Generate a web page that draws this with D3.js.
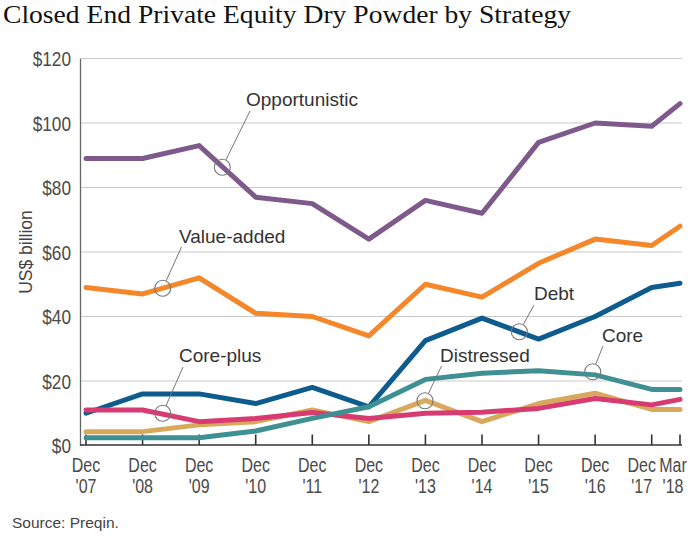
<!DOCTYPE html>
<html><head><meta charset="utf-8">
<script src="https://cdn.jsdelivr.net/npm/d3@7"></script>
<style>
body{margin:0;background:#fff;}
svg{display:block;}
</style></head>
<body>
<svg id="c" width="696" height="544"></svg>
<script>
const categories = ["Dec '07","Dec '08","Dec '09","Dec '10","Dec '11","Dec '12","Dec '13","Dec '14","Dec '15","Dec '16","Dec '17","Mar '18"];
const opportunistic = [89, 89, 93, 77, 75, 64, 76, 72, 94, 100, 99, 106];
const valueAdded   = [49, 47, 52, 41, 40, 34, 50, 46, 56.5, 64, 62, 68];
const debt         = [10, 16, 16, 13, 18, 12, 32.5, 39.5, 33, 40, 49, 50.3];
const distressed   = [4.3, 4.3, 6.4, 7.4, 11, 7.4, 14, 7.4, 13, 16.2, 11.2, 11.2];
const corePlus     = [11, 11, 7.4, 8.4, 10.2, 8.4, 10, 10.3, 11.5, 14.6, 12.6, 14.3];
const core         = [2.4, 2.4, 2.4, 4.5, 8.4, 12, 20.5, 22.4, 23.2, 21.9, 17.4, 17.4];
const yTicks = [0, 20, 40, 60, 80, 100, 120];

const series = [
  {name:"Opportunistic", values:opportunistic, color:"#7e5a8c"},
  {name:"Value-added", values:valueAdded, color:"#f5862a"},
  {name:"Debt", values:debt, color:"#0e5b8e"},
  {name:"Distressed", values:distressed, color:"#d8a95c"},
  {name:"Core-plus", values:corePlus, color:"#d83a72"},
  {name:"Core", values:core, color:"#3f9093"}
];

const svg = d3.select("#c");
const sans = "'Liberation Sans',Arial,Helvetica,sans-serif";
const condense = 0.82;

// position index: year-end points one step apart, March point a half step after Dec '17
const pos = categories.map((c,i)=> i < categories.length-1 ? i : (i-1)+0.5);
const x = d3.scaleLinear().domain([0, 10]).range([86, 651.7]);
const y = d3.scaleLinear().domain([0, 120]).range([445.5, 58.5]);
const plotLeft = 80, plotRight = 682;

// title
svg.append("text").attr("x",3).attr("y",22.5)
  .attr("font-family","'Liberation Serif','Times New Roman',serif")
  .attr("font-size",24.5).attr("fill","#111")
  .attr("textLength",568).attr("lengthAdjust","spacingAndGlyphs")
  .text("Closed End Private Equity Dry Powder by Strategy");

// gridlines
svg.append("g").selectAll("line").data(yTicks.filter(d=>d>0)).join("line")
  .attr("x1",plotLeft).attr("x2",plotRight)
  .attr("y1",d=>y(d)).attr("y2",d=>y(d))
  .attr("stroke","#c9c9c9").attr("stroke-width",1.2);

// y axis line
const yAxis = d3.axisLeft(y).tickValues(yTicks).tickSize(0).tickFormat("");
const gy = svg.append("g").attr("transform",`translate(${plotLeft},0)`).call(yAxis);
gy.select(".domain").attr("stroke","#666").attr("stroke-width",1.3);

// y tick labels (condensed)
svg.append("g").selectAll("text").data(yTicks).join("text")
  .attr("transform",d=>`translate(71,${y(d)}) scale(${condense},1)`)
  .attr("text-anchor","end").attr("dy","0.36em")
  .attr("font-family",sans).attr("font-size",21).attr("fill","#4a4a4a")
  .text(d=>"$"+d);

// y axis title
svg.append("text").attr("transform","translate(32,252) rotate(-90)")
  .attr("text-anchor","middle").attr("font-family",sans).attr("font-size",17.5).attr("fill","#444")
  .text("US$ billion");

// x axis
svg.append("line").attr("x1",plotLeft).attr("x2",plotRight).attr("y1",445).attr("y2",445)
  .attr("stroke","#333").attr("stroke-width",1.6);
svg.append("g").selectAll("line").data(pos).join("line")
  .attr("x1",d=>x(d)).attr("x2",d=>x(d)).attr("y1",445).attr("y2",434.5)
  .attr("stroke","#333").attr("stroke-width",1.6);

const labelShift = categories.map((c,i)=> i===categories.length-2 ? -10 : (i===categories.length-1 ? -7 : 0));
const xg = svg.append("g").selectAll("g").data(categories).join("g")
  .attr("transform",(d,i)=>`translate(${x(pos[i])+labelShift[i]},0) scale(${condense},1)`);
xg.append("text").attr("text-anchor","middle").attr("y",472.5)
  .attr("font-family",sans).attr("font-size",19.5).attr("fill","#4a4a4a")
  .text(d=>d.split(" ")[0]);
xg.append("text").attr("text-anchor","middle").attr("y",493.5)
  .attr("font-family",sans).attr("font-size",19.5).attr("fill","#4a4a4a")
  .text(d=>d.split(" ")[1]);

// lines
const line = d3.line().x((d,i)=>x(pos[i])).y(d=>y(d));
svg.append("g").selectAll("path").data(series).join("path")
  .attr("d",d=>line(d.values)).attr("fill","none")
  .attr("stroke",d=>d.color).attr("stroke-width",5)
  .attr("stroke-linejoin","round").attr("stroke-linecap","round");

// annotations
const ann = [
  {t:"Opportunistic", tx:246, ty:106, cx:222.3, cy:167.3, lx:250, ly:111},
  {t:"Value-added", tx:179, ty:243, cx:162.7, cy:288.3, lx:181.5, ly:247},
  {t:"Core-plus", tx:179, ty:362, cx:162.7, cy:413.3, lx:183, ly:367},
  {t:"Debt", tx:534, ty:300, cx:519.3, cy:331.7, lx:534, ly:305},
  {t:"Distressed", tx:440, ty:362, cx:425, cy:400.7, lx:441.5, ly:366},
  {t:"Core", tx:602, ty:342, cx:592.7, cy:371.7, lx:603, ly:346}
];
const r = 8;
const ga = svg.append("g");
ann.forEach(a=>{
  const dx = a.lx-a.cx, dy = a.ly-a.cy, L = Math.hypot(dx,dy);
  ga.append("line").attr("x1",a.lx).attr("y1",a.ly)
    .attr("x2",a.cx+dx/L*r).attr("y2",a.cy+dy/L*r)
    .attr("stroke","#777").attr("stroke-width",1);
  ga.append("circle").attr("cx",a.cx).attr("cy",a.cy).attr("r",r)
    .attr("fill","none").attr("stroke","#777").attr("stroke-width",1.1);
  ga.append("text").attr("x",a.tx).attr("y",a.ty).attr("font-family",sans)
    .attr("font-size",19).attr("fill","#333").text(a.t);
});

// source
svg.append("text").attr("x",12).attr("y",528).attr("font-family",sans)
  .attr("font-size",15.5).attr("fill","#444").text("Source: Preqin.");
</script>
</body></html>
